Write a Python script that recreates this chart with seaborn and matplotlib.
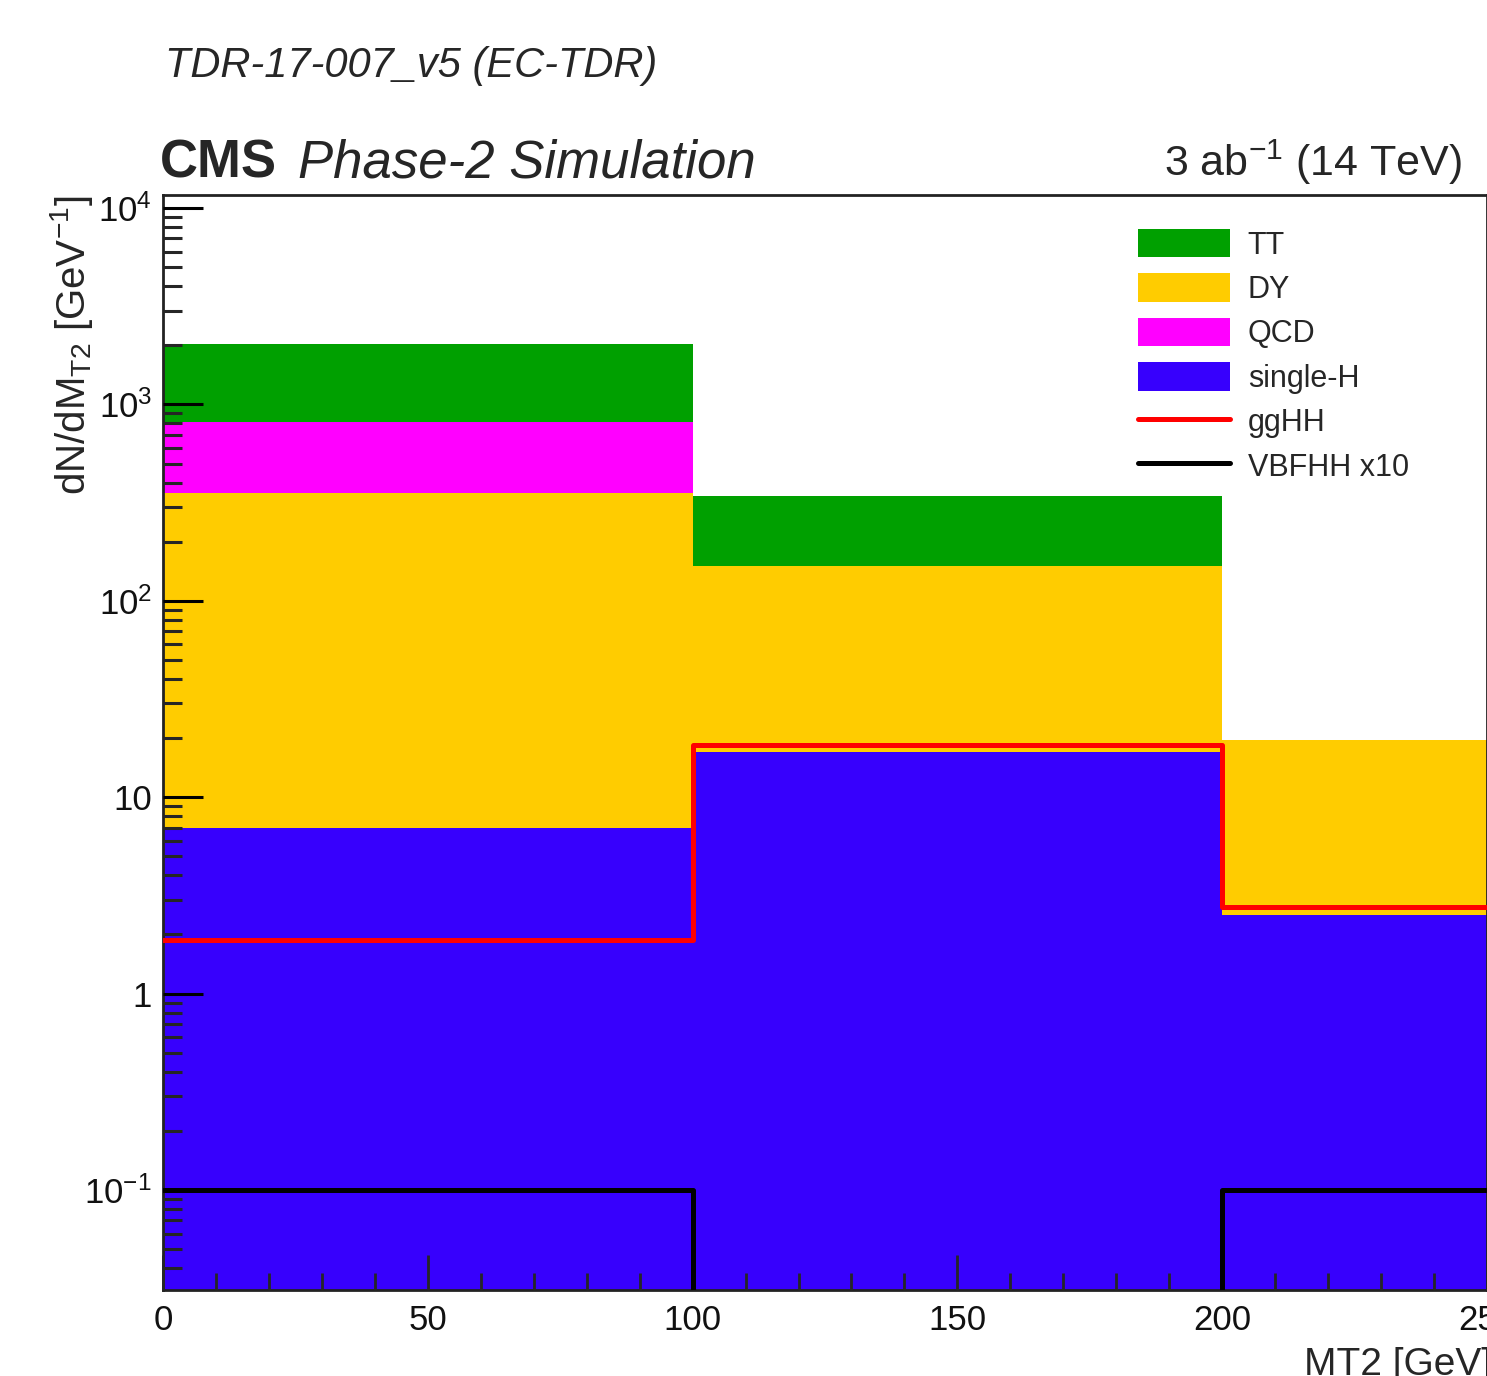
import numpy as np
import pandas as pd
import matplotlib
matplotlib.use("Agg")
import matplotlib.pyplot as plt
import matplotlib.font_manager as fm
from matplotlib.patches import Patch
from matplotlib.lines import Line2D
from matplotlib.ticker import FixedLocator, FixedFormatter, MultipleLocator, LogLocator, NullFormatter
import seaborn as sns

# ---------------- data ----------------
bin_edges = [0, 100, 200, 250]
bin_centers = [50, 150, 225]
processes = ["TT", "DY", "QCD", "single-H"]
tt_vals = [1207.0, 191.0, 0.0]
dy_vals = [346.0, 133.0, 17.0]
qcd_vals = [458.0, 1.0, 0.0]
singleh_vals = [7.0, 17.0, 2.5]
gghh_vals = [1.87, 18.4, 2.76]
vbfhh_x10_vals = [0.1, 0.0, 0.1]
ytick_vals = [1e-1, 1, 10, 1e2, 1e3, 1e4]
ytick_labels = [r"$10^{-1}$", "1", "10", r"$10^{2}$", r"$10^{3}$", r"$10^{4}$"]
xtick_vals = [0, 50, 100, 150, 200, 250]
xtick_labels = ["0", "50", "100", "150", "200", "250"]

colors = {"TT": "#00a000", "DY": "#ffcc00", "QCD": "#ff00ff", "single-H": "#3700fd"}

# ---------------- style ----------------
sns.set_theme(style="white")
names = {f.name for f in fm.fontManager.ttflist}
narrow = "Liberation Sans Narrow" if "Liberation Sans Narrow" in names else "Liberation Sans"
plt.rcParams["font.family"] = [narrow, "DejaVu Sans"]
plt.rcParams["mathtext.fontset"] = "custom"
plt.rcParams["mathtext.rm"] = narrow
plt.rcParams["mathtext.it"] = narrow + ":italic"
plt.rcParams["mathtext.default"] = "regular"

W, H = 1487, 1376
fig = plt.figure(figsize=(W / 100, H / 100), dpi=100)
ax = fig.add_axes([163 / W, 1 - 1290 / H, (1487 - 163) / W, (1290 - 195) / H])

# ---------------- stacked histogram ----------------
vals = {"TT": tt_vals, "DY": dy_vals, "QCD": qcd_vals, "single-H": singleh_vals}
rows = []
for p in processes:
    for c, v in zip(bin_centers, vals[p]):
        rows.append({"mt2": c, "w": v, "process": p})
df = pd.DataFrame(rows)

sns.histplot(data=df, x="mt2", weights="w", hue="process", bins=bin_edges,
             multiple="stack", hue_order=["TT", "QCD", "DY", "single-H"],
             palette=colors, element="bars", alpha=1.0, linewidth=0,
             legend=False, ax=ax)

sns.histplot(x=bin_centers, weights=gghh_vals, bins=bin_edges, element="step",
             fill=False, color="#ff0000", linewidth=3.6, ax=ax, zorder=5)
sns.histplot(x=bin_centers, weights=vbfhh_x10_vals, bins=bin_edges, element="step",
             fill=False, color="black", linewidth=3.6, ax=ax, zorder=6)

ax.set_yscale("log")
ax.set_xlim(0, 250)
ax.set_ylim(10 ** -1.509, 10 ** 4.066)
ax.set_xlabel("")
ax.set_ylabel("")
ax.grid(False)

# ticks
ax.yaxis.set_major_locator(FixedLocator(ytick_vals))
ax.yaxis.set_major_formatter(FixedFormatter(ytick_labels))
ax.yaxis.set_minor_locator(LogLocator(base=10, subs=np.arange(2, 10)))
ax.yaxis.set_minor_formatter(NullFormatter())
ax.xaxis.set_major_locator(FixedLocator(xtick_vals))
ax.xaxis.set_major_formatter(FixedFormatter(xtick_labels))
ax.xaxis.set_minor_locator(MultipleLocator(10))
ax.tick_params(axis="y", which="major", direction="in", length=29, width=2.2,
               labelsize=25, pad=8, left=True, right=False, colors="black")
ax.tick_params(axis="y", which="minor", direction="in", length=14, width=2.2,
               left=True, right=False)
ax.tick_params(axis="x", which="major", direction="in", length=25, width=2.0,
               labelsize=25, pad=10, bottom=True, top=False)
ax.tick_params(axis="x", which="minor", direction="in", length=12, width=2.0,
               bottom=True, top=False)
for t in ax.get_xticklabels() + ax.get_yticklabels():
    t.set_color("#111111")
for s in ax.spines.values():
    s.set_visible(True)
    s.set_color("#222222")
    s.set_linewidth(2.0)
ax.set_axisbelow(False)

# legend
handles = [Patch(facecolor=colors["TT"], edgecolor="none"),
           Patch(facecolor=colors["DY"], edgecolor="none"),
           Patch(facecolor=colors["QCD"], edgecolor="none"),
           Patch(facecolor=colors["single-H"], edgecolor="none"),
           Line2D([], [], color="#ff0000", lw=3.6),
           Line2D([], [], color="black", lw=3.6)]
labels = ["TT", "DY", "QCD", "single-H", "ggHH", "VBFHH x10"]
leg = ax.legend(handles, labels, loc="upper left",
                bbox_to_anchor=(1138 / W, 1 - 229 / H), bbox_transform=fig.transFigure,
                frameon=False, fontsize=22, handlelength=3.0, handleheight=1.05,
                handletextpad=0.59, labelspacing=0.42, borderpad=0, borderaxespad=0)

# texts
fig.text(165 / W, 1 - 77 / H, "TDR-17-007_v5 (EC-TDR)", fontsize=30, style="italic",
         family=["Liberation Sans", "DejaVu Sans"], ha="left", va="baseline")
fig.text(160 / W, 1 - 178 / H, "CMS", fontsize=38, weight="bold", ha="left", va="baseline")
fig.text(298 / W, 1 - 178 / H, "Phase-2 Simulation", fontsize=38, style="italic",
         ha="left", va="baseline")
fig.text(1462 / W, 1 - 176 / H, r"3 ab$^{-1}$ (14 TeV)", fontsize=31, ha="right", va="baseline")
fig.text(72 / W, 1 - 195 / H, r"dN/dM$_{T2}$ [GeV$^{-1}$]", fontsize=29, rotation=90,
         ha="center", va="top")
fig.text(1492 / W, 1 - 1347 / H, "MT2 [GeV]", fontsize=28, ha="right", va="top")

fig.savefig("out.png", dpi=100)
